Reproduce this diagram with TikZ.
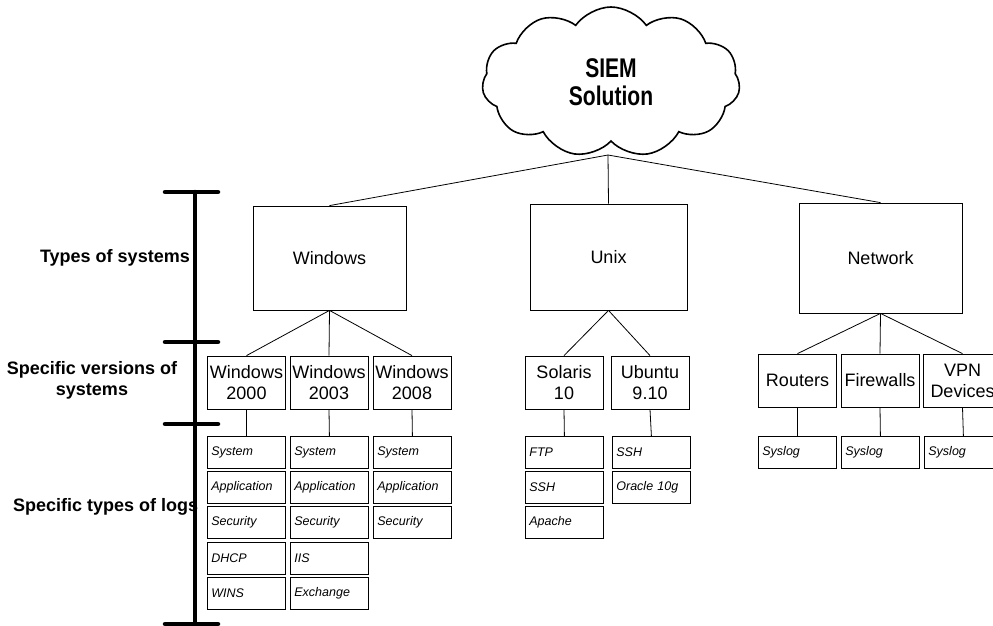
\documentclass[tikz,border=0pt]{standalone}
\usepackage{fontspec}
\setmainfont{Liberation Sans}
\newfontfamily\cloudfont[FakeStretch=0.78]{Liberation Sans}
\usetikzlibrary{shapes,positioning}

\tikzset{
  sysbox/.style={draw,line width=0.8pt,inner sep=0pt,font=\fontsize{18}{21}\selectfont},
  verbox/.style={draw,line width=0.8pt,minimum width=78pt,minimum height=53pt,inner sep=0pt,align=center,font=\fontsize{18}{21}\selectfont},
  logbox/.style={draw,line width=0.8pt,minimum height=32pt,text width=70pt,inner xsep=4pt,inner ysep=0pt,align=left,anchor=north west,font=\itshape\fontsize{12.5}{14}\selectfont},
  levellabel/.style={font=\bfseries\fontsize{18}{21}\selectfont,inner sep=0pt},
  scaleline/.style={line width=4.5pt,line cap=round},
  link/.style={line width=0.8pt}
}

\begin{document}
\begin{tikzpicture}[x=1pt,y=-1pt]
\useasboundingbox (0,0) rectangle (993,625);

\node[cloud,draw,line width=1.6pt,cloud puffs=11,cloud puff arc=110,aspect=1.8,minimum width=258pt,minimum height=150pt,align=center,font=\cloudfont\bfseries\fontsize{27}{28}\selectfont] (siem) at (611,82) {SIEM\\Solution};
\coordinate (root) at (608,155);

\node[sysbox,minimum width=153pt,minimum height=104pt] (win) at (329.5,258) {Windows};
\node[sysbox,minimum width=157pt,minimum height=106pt] (unix) at (608.5,257) {Unix};
\node[sysbox,minimum width=163pt,minimum height=110pt] (net) at (880.5,258) {Network};

\node[verbox] (w2000) at (246.5,382.5) {Windows\\2000};
\node[verbox] (w2003) at (329,382.5) {Windows\\2003};
\node[verbox] (w2008) at (412,382.5) {Windows\\2008};
\node[verbox] (sol) at (564,382.5) {Solaris\\10};
\node[verbox] (ubu) at (650,382.5) {Ubuntu\\9.10};
\node[verbox] (rout) at (797.5,380.5) {Routers};
\node[verbox] (fire) at (880,380.5) {Firewalls};
\node[verbox] (vpn) at (962.5,380.5) {VPN\\Devices};

\node[logbox] (w2000a) at (207,436) {System};
\node[logbox] (w2000b) at (207,471) {Application};
\node[logbox] (w2000c) at (207,506) {Security};
\node[logbox] (w2000d) at (207,541.5) {DHCP};
\node[logbox] (w2000e) at (207,577) {WINS};
\node[logbox] (w2003a) at (290,436) {System};
\node[logbox] (w2003b) at (290,471) {Application};
\node[logbox] (w2003c) at (290,506) {Security};
\node[logbox] (w2003d) at (290,541.5) {IIS};
\node[logbox] (w2003e) at (290,577) {Exchange};
\node[logbox] (w2008a) at (373,436) {System};
\node[logbox] (w2008b) at (373,471) {Application};
\node[logbox] (w2008c) at (373,506) {Security};
\node[logbox] (sola) at (525,436) {FTP};
\node[logbox] (solb) at (525,471) {SSH};
\node[logbox] (solc) at (525,506) {Apache};
\node[logbox] (ubua) at (612,436) {SSH};
\node[logbox] (ubub) at (612,471) {Oracle 10g};
\node[logbox] (routa) at (758,436) {Syslog};
\node[logbox] (firea) at (841,436) {Syslog};
\node[logbox] (vpna) at (924,436) {Syslog};

\draw[link] (root) -- (win.north);
\draw[link] (root) -- (unix.north);
\draw[link] (root) -- (net.north);
\draw[link] (win.south) -- (w2000.north);
\draw[link] (win.south) -- (w2003.north);
\draw[link] (win.south) -- (w2008.north);
\draw[link] (unix.south) -- (sol.north);
\draw[link] (unix.south) -- (ubu.north);
\draw[link] (net.south) -- (rout.north);
\draw[link] (net.south) -- (fire.north);
\draw[link] (net.south) -- (vpn.north);
\draw[link] (w2000.south) -- (w2000a.north);
\draw[link] (w2003.south) -- (w2003a.north);
\draw[link] (w2008.south) -- (w2008a.north);
\draw[link] (sol.south) -- (sola.north);
\draw[link] (ubu.south) -- (ubua.north);
\draw[link] (rout.south) -- (routa.north);
\draw[link] (fire.south) -- (firea.north);
\draw[link] (vpn.south) -- (vpna.north);

\coordinate (top) at (195,192);
\coordinate (bottom) at (195,632);
\draw[scaleline] (top) -- (bottom);
\draw[scaleline] (165,192) -- (218,192);
\draw[scaleline] (165,342) -- (218,342);
\draw[scaleline] (165,424) -- (218,424);
\draw[scaleline] (165,624) -- (218,624);

\node[levellabel,anchor=east] (types) at (190,258) {Types of systems};
\node[levellabel,align=center] (versions) at (92,380) {Specific versions of\\systems};
\node[levellabel,anchor=west] (logs) at (13,507) {Specific types of logs};
\end{tikzpicture}
\end{document}
